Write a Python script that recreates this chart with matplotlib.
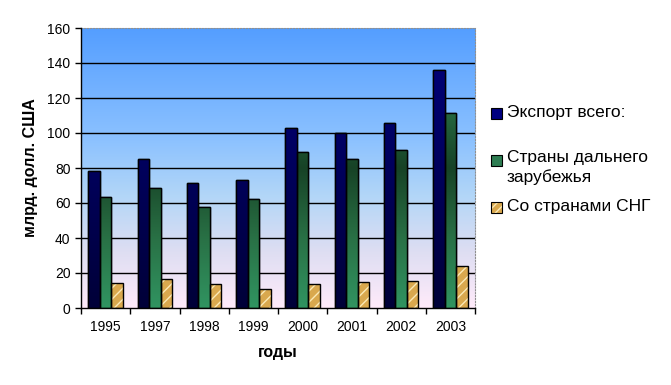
import numpy as np
import matplotlib
matplotlib.use("Agg")
import matplotlib.pyplot as plt
from matplotlib.colors import LinearSegmentedColormap
from matplotlib.patches import Rectangle

plt.rcParams['font.family'] = ['Liberation Sans', 'DejaVu Sans']

years = ['1995', '1997', '1998', '1999', '2000', '2001', '2002', '2003']
export_total = [78.2, 85.1, 71.2, 73.0, 102.8, 99.8, 105.6, 135.8]
far_abroad = [63.2, 68.4, 57.5, 62.1, 89.0, 84.9, 90.1, 111.2]
cis = [14.1, 16.4, 13.5, 10.7, 13.5, 14.7, 15.4, 24.0]
labels = ['Экспорт всего:', 'Страны дальнего\nзарубежья', 'Со странами СНГ']
yticks = [0, 20, 40, 60, 80, 100, 120, 140, 160]

fig = plt.figure(figsize=(6.71, 3.85), dpi=100)
ax = fig.add_axes([81/671, 77/385, 394/671, 280/385])

x = np.arange(len(years))
w = 0.234

ax.set_xlim(-0.5, len(years) - 0.5)
ax.set_ylim(0, 160)

# background gradient
bg = LinearSegmentedColormap.from_list('bg', [
    (0.0, (1.0, 0.92, 0.98)),
    (0.2, (0.87, 0.87, 0.95)),
    (0.4, (0.70, 0.84, 0.97)),
    (0.6, (0.55, 0.76, 1.0)),
    (1.0, (0.33, 0.62, 1.0))])
grad = np.linspace(0, 1, 256).reshape(-1, 1)
ax.imshow(grad, cmap=bg, aspect='auto', origin='lower',
          extent=[-0.5, len(years) - 0.5, 0, 160], zorder=0)

for yv in yticks[1:-1]:
    ax.axhline(yv, color='black', lw=1, zorder=1)

navy = LinearSegmentedColormap.from_list('navy', [(0, 0, 0.22), (0, 0, 0.5)])
green = LinearSegmentedColormap.from_list('green', [
    (0.0, (0.19, 0.58, 0.38)), (0.25, (0.16, 0.44, 0.27)),
    (0.5, (0.09, 0.26, 0.15)), (0.75, (0.16, 0.44, 0.27)),
    (1.0, (0.20, 0.60, 0.40))])

b1 = ax.bar(x - w, export_total, w, color='#000080', edgecolor='black', lw=1, zorder=2)
b2 = ax.bar(x, far_abroad, w, color='#339966', edgecolor='black', lw=1, zorder=2)
b3 = ax.bar(x + w, cis, w, color='#d9a84e', edgecolor='#fbe9b5', hatch='///', lw=0, zorder=2)
ax.bar(x + w, cis, w, fill=False, edgecolor='black', lw=1, zorder=4)

for bars, cm in ((b1, navy), (b2, green)):
    for p in bars:
        x0 = p.get_x()
        ww = p.get_width()
        im = ax.imshow(grad, cmap=cm, aspect='auto', origin='lower',
                       extent=[x0, x0 + ww, 0, 160], zorder=3)
        im.set_clip_path(p)
    for p in bars:
        ax.add_patch(Rectangle((p.get_x(), 0), p.get_width(), p.get_height(),
                               fill=False, edgecolor='black', lw=1, zorder=4))

ax.set_xticks(x)
ax.set_xticklabels(years, fontsize=10)
ax.set_xticks(np.arange(-0.5, len(years)), minor=True)
ax.tick_params(axis='x', which='major', length=0, pad=8.5)
ax.tick_params(axis='x', which='minor', length=4, direction='out', width=1)
ax.set_yticks(yticks)
ax.set_yticklabels([str(v) for v in yticks], fontsize=10)
ax.tick_params(axis='y', length=4, direction='out', width=1)

for s in ('top', 'right'):
    ax.spines[s].set_color('#909090')
    ax.spines[s].set_linestyle(':')
for s in ('left', 'bottom'):
    ax.spines[s].set_color('black')
    ax.spines[s].set_linewidth(1)
    ax.spines[s].set_zorder(5)

ax.set_ylabel('млрд. долл. США', fontsize=11.5, fontweight='bold', labelpad=7)
ax.set_xlabel('годы', fontsize=11.5, fontweight='bold', labelpad=8)

# legend
items = [(113, '#000080', None, labels[0]),
         (160, '#2e7d52', None, labels[1]),
         (207, '#d9a84e', '////', labels[2])]
sq = 11
for yp, col, hatch, lab in items:
    pos = (491/671, 1 - (yp + sq/2)/385)
    if hatch:
        r = Rectangle(pos, sq/671, sq/385, transform=fig.transFigure,
                      facecolor=col, edgecolor='#fbe9b5', lw=0, hatch=hatch)
        fig.patches.append(r)
        fig.patches.append(Rectangle(pos, sq/671, sq/385, transform=fig.transFigure,
                                     fill=False, edgecolor='black', lw=0.8))
    else:
        fig.patches.append(Rectangle(pos, sq/671, sq/385, transform=fig.transFigure,
                                     facecolor=col, edgecolor='black', lw=0.8))
    if '\n' in lab:
        fig.text(507/671, 1 - (yp - 10)/385, lab, fontsize=12.5, va='top', ha='left',
                 linespacing=1.35)
    else:
        fig.text(507/671, 1 - yp/385, lab, fontsize=12.5, va='center', ha='left')

fig.savefig('out.png', dpi=100)
